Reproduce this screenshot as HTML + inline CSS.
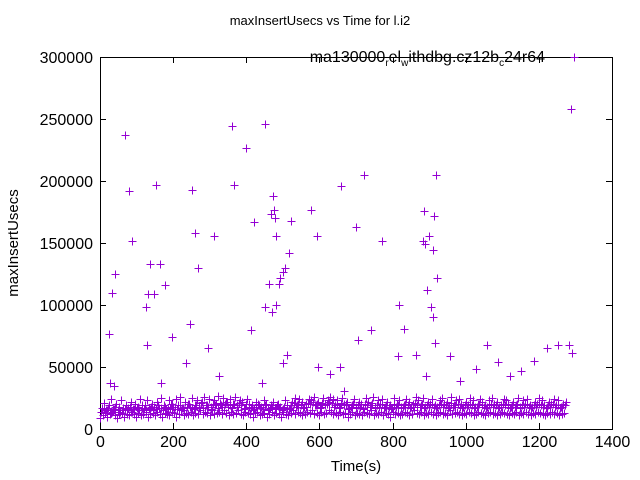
<!DOCTYPE html>
<html><head><meta charset="utf-8"><style>
body{margin:0;background:#fff}
svg{display:block;font-family:"Liberation Sans",sans-serif}
</style></head><body>
<svg id="chart" width="640" height="480" viewBox="0 0 640 480">
<rect width="640" height="480" fill="#fff"/>
<text x="320" y="25" text-anchor="middle" font-size="13">maxInsertUsecs vs Time for l.i2</text>
<g id="axes"></g>
<g id="points"></g>
<text x="0" y="0" transform="translate(18,243) rotate(-90)" text-anchor="middle" font-size="15">maxInsertUsecs</text>
<text x="356" y="471" text-anchor="middle" font-size="15">Time(s)</text>
<g>
<text x="545" y="62" text-anchor="end" font-size="16">ma130000<tspan font-size="10" dy="4">r</tspan><tspan dy="-4">el</tspan><tspan font-size="10" dy="4">w</tspan><tspan dy="-4">ithdbg.cz12b</tspan><tspan font-size="10" dy="4">c</tspan><tspan dy="-4">24r64</tspan></text>
<path d="M570.5 57.5h8M574.5 53.5v8" stroke="#9400d3" stroke-width="1"/>
</g>
</svg>
<script>
const xTicks=[0,200,400,600,800,1000,1200,1400];
const yTicks=[0,50000,100000,150000,200000,250000,300000];
const outT=[68,79,88,25,33,41,27,38,128,126,137,131,148,153,164,167,178,197,235,246,252,260,268,295,312,325,361,366,399,413,421,443,451,451,462,468,473,476,479,481,470,481,489,492,500,506,511,517,522,500,577,593,596,629,656,659,667,700,705,722,741,771,815,818,831,864,883,886,889,894,900,905,910,913,910,919,921,891,916,957,984,1028,1058,1088,1121,1151,1187,1222,1252,1282,1291,1288];
const outV=[237000,192000,152000,77000,110000,125000,37000,35000,68000,98000,133000,109000,109000,197000,133000,37000,116000,74000,53000,85000,193000,158000,130000,65000,156000,43000,244000,197000,227000,80000,167000,37000,246000,98000,117000,173000,188000,177000,170000,156000,94000,100000,117000,122000,127000,130000,60000,142000,168000,53000,177000,156000,50000,44000,50000,196000,31000,163000,72000,205000,80000,152000,59000,100000,81000,60000,152000,176000,149000,112000,156000,98000,144000,172000,90000,205000,122000,43000,69000,59000,39000,48000,68000,54000,43000,47000,55000,65000,68000,68000,61000,258000];
const bandStart=1, bandStep=6.5;
const bandLowK=[9,11,13,10,12,14,11,9,12,13,10,12,11,14,12,10,13,11,12,15,10,12,13,11,14,12,10,13,12,11,14,13,10,12,15,11,13,12,14,11,13,12,15,12,14,13,11,15,12,13,14,12,15,13,11,14,12,13,15,12,11,14,13,12,10,13,14,11,12,13,10,12,14,11,13,12,10,14,12,11,13,15,12,14,13,11,12,14,13,15,12,13,11,14,12,13,15,14,12,13,11,14,12,13,10,12,14,11,13,12,11,14,13,12,15,11,13,12,14,11,13,12,10,14,12,13,11,12,14,13,11,12,15,13,12,14,11,13,12,14,12,11,13,14,12,13,11,15,12,13,14,12,11,13,12,14,13,11,12,14,13,12,11,13,14,12,13,11,12,14,13,12,11,13,12,14,11,13,12,14,12,11,13,12,14,13,12,11,13,12,14,12,13,11,12,13];
const bandMidK=[14,16,15,17,13,16,18,15,14,17,16,15,18,14,16,17,15,19,16,14,17,18,15,16,19,17,15,18,16,17,20,18,16,19,17,15,18,20,17,16,19,18,21,17,19,18,16,20,19,17,21,18,20,22,19,17,20,18,21,19,16,20,18,17,15,18,20,17,16,19,15,17,18,16,19,17,15,18,17,16,19,21,18,20,19,17,18,21,20,22,19,20,17,21,19,20,22,21,18,20,17,21,19,20,16,18,20,17,19,18,16,20,19,18,21,17,19,18,20,17,19,18,16,20,18,19,17,18,20,19,17,18,21,19,18,20,17,19,18,20,18,17,19,20,18,19,17,21,18,19,20,18,17,19,18,20,19,17,18,20,19,18,17,19,20,18,19,17,18,20,19,18,17,19,18,20,17,19,18,20,18,17,19,18,20,19,18,17,19,18,20,18,19,17,18,19];
const bandHighK=[17,21,15,19,24,16,20,18,23,15,19,17,22,16,20,18,24,17,19,23,16,20,18,22,17,25,19,16,23,20,18,24,19,26,17,22,20,18,25,19,23,17,22,26,19,24,18,23,20,27,19,25,22,18,24,20,26,19,23,22,17,24,20,19,16,22,19,18,23,20,16,19,22,17,20,18,16,23,19,17,22,25,19,24,22,18,20,24,23,26,19,22,18,25,20,23,26,24,19,23,18,25,20,22,17,19,24,18,22,20,17,25,22,19,26,18,23,20,24,18,22,19,17,25,20,23,18,19,24,22,18,20,26,23,19,25,18,22,20,24,19,18,23,25,20,22,18,26,19,23,24,20,18,22,19,25,23,18,20,24,22,19,18,23,25,20,22,18,19,24,23,20,18,22,19,25,18,23,20,24,19,18,22,20,25,23,19,18,22,20,24,19,23,18,20,22];
const X0=100,X1=612,Y0=429,Y1=57;
const sx=t=>X0+(t-0)*(X1-X0)/1400;
const sy=v=>Y0-v*(Y0-Y1)/300000;
const NS='http://www.w3.org/2000/svg';
const axes=document.getElementById('axes');
const pts=document.getElementById('points');
function mk(tag,attrs,parent){const e=document.createElementNS(NS,tag);for(const k in attrs)e.setAttribute(k,attrs[k]);parent.appendChild(e);return e;}
const frame=mk('rect',{x:X0+0.5,y:Y1+0.5,width:X1-X0,height:Y0-Y1,fill:'none',stroke:'#000','stroke-width':1},axes);


xTicks.forEach(t=>{const x=Math.round(sx(t))+0.5;
 const l=mk('path',{d:`M${x} ${Y0}v-6M${x} ${Y1}v6`,stroke:'#000'},axes);
 
 
 const tx=mk('text',{x:x,y:Y0+18,'text-anchor':'middle','font-size':16},axes);tx.textContent=t;
 
 });
yTicks.forEach(v=>{const y=Math.round(sy(v))+0.5;
 const l=mk('path',{d:`M${X0} ${y}h6M${X1} ${y}h-6`,stroke:'#000'},axes);
 
 
 const tx=mk('text',{x:X0-7,y:y+5.5,'text-anchor':'end','font-size':16},axes);tx.textContent=v;
 
 });
function cross(t,v,name){const x=Math.round(sx(t))+0.5,y=Math.round(sy(v))+0.5;
 const p=mk('path',{d:`M${x-4} ${y}h8M${x} ${y-4}v8`,stroke:'#9400d3','stroke-width':1},pts);
 
 }
[bandLowK,bandMidK,bandHighK].forEach((arr,j)=>arr.forEach((k,i)=>cross(bandStart+i*bandStep+j*2.2,k*1000,'band-point')));
outT.forEach((t,i)=>cross(t,outV[i],'outlier-point'));
</script>
</body></html>
